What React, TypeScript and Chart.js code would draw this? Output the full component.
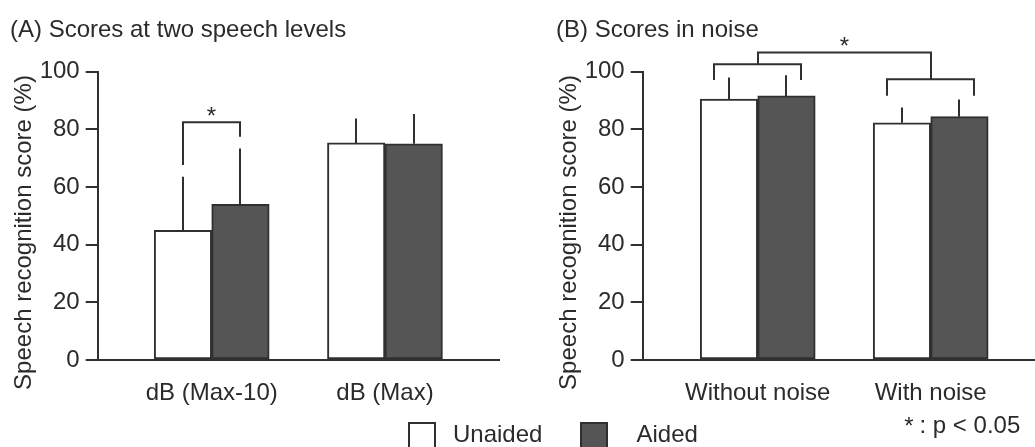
import React, { useEffect, useRef } from 'react';
import { Chart, registerables } from 'chart.js';

Chart.register(...registerables);

const W = 1035;
const H = 447;
const FONT = '"Liberation Sans", Arial, Helvetica, sans-serif';
const INK = '#303030';
const TEXT = '#2b2b2b';
const AIDED_FILL = '#555555';
const UNAIDED_FILL = '#ffffff';

// ---------- data ----------
const seriesNames = ['Unaided', 'Aided'];
const yTicks = [0, 20, 40, 60, 80, 100];

// Panel A
const aCategories = ['dB (Max-10)', 'dB (Max)'];
const aUnaided = [45, 75.3];
const aAided = [54, 75];
const aUnaidedSD = [18.6, 8.5];
const aAidedSD = [19.4, 10.3];

// Panel B
const bCategories = ['Without noise', 'With noise'];
const bUnaided = [90.5, 82.3];
const bAided = [91.6, 84.4];
const bUnaidedSD = [7.5, 5.3];
const bAidedSD = [7.2, 6.0];

// significance brackets (x in category units, y in %)
const aBrackets = [{ x1: -0.166, x2: 0.166, y: 82.5, y1: 67.6, y2: 77.4, star: true }];
const bBrackets = [
  { x1: -0.25, x2: 0.25, y: 102.6, y1: 97.1, y2: 97.1, star: false },
  { x1: 0.75, x2: 1.25, y: 97.4, y1: 91.7, y2: 91.7, star: false },
  { x1: 0, x2: 1, y: 106.7, y1: 102.6, y2: 97.4, star: true },
];

const yTitle = 'Speech recognition score (%)';
const footnote = ': p < 0.05';

type Bracket = { x1: number; x2: number; y: number; y1: number; y2: number; star: boolean };
type Panel = {
  key: string;
  title: string;
  titleX: number;
  yTitleX: number;
  categories: string[];
  unaided: number[];
  aided: number[];
  unaidedSD: number[];
  aidedSD: number[];
  brackets: Bracket[];
  padLeft: number;
  padRight: number;
  yAxisW: number;
  xMin: number;
  xMax: number;
  extras: boolean;
};

const panelA: Panel = {
  key: 'A',
  title: '(A) Scores at two speech levels',
  titleX: 10,
  yTitleX: 30.5,
  categories: aCategories,
  unaided: aUnaided,
  aided: aAided,
  unaidedSD: aUnaidedSD,
  aidedSD: aAidedSD,
  brackets: aBrackets,
  padLeft: 0,
  padRight: W - 500,
  yAxisW: 97.7,
  xMin: -0.658,
  xMax: 1.664,
  extras: false,
};

const panelB: Panel = {
  key: 'B',
  title: '(B) Scores in noise',
  titleX: 556,
  yTitleX: 576,
  categories: bCategories,
  unaided: bUnaided,
  aided: bAided,
  unaidedSD: bUnaidedSD,
  aidedSD: bAidedSD,
  brackets: bBrackets,
  padLeft: 515,
  padRight: 0,
  yAxisW: 127.7,
  xMin: -0.665,
  xMax: 1.603,
  extras: true,
};

const font = (size: number) => `${size}px ${FONT}`;

function annotPlugin(p: Panel) {
  return {
    id: 'annot' + p.key,
    afterDatasetsDraw(chart: any) {
      const ctx = chart.ctx as CanvasRenderingContext2D;
      const y = chart.scales.y;
      const vals = [p.unaided, p.aided];
      const sds = [p.unaidedSD, p.aidedSD];
      ctx.save();
      ctx.strokeStyle = INK;
      ctx.lineWidth = 2;
      ctx.lineCap = 'butt';
      for (let d = 0; d < 2; d++) {
        const meta = chart.getDatasetMeta(d);
        meta.data.forEach((el: any, i: number) => {
          const top = y.getPixelForValue(vals[d][i] + sds[d][i]);
          ctx.beginPath();
          ctx.moveTo(Math.round(el.x), el.y);
          ctx.lineTo(Math.round(el.x), top);
          ctx.stroke();
        });
      }
      ctx.restore();
    },
    afterDraw(chart: any) {
      const ctx = chart.ctx as CanvasRenderingContext2D;
      const xs = chart.scales.x;
      const ys = chart.scales.y;
      ctx.save();
      // brackets
      ctx.strokeStyle = INK;
      ctx.lineWidth = 2;
      ctx.lineJoin = 'miter';
      ctx.fillStyle = TEXT;
      ctx.font = font(24);
      ctx.textAlign = 'center';
      ctx.textBaseline = 'alphabetic';
      p.brackets.forEach((b) => {
        const x1 = Math.round(xs.getPixelForValue(b.x1));
        const x2 = Math.round(xs.getPixelForValue(b.x2));
        const py = ys.getPixelForValue(b.y);
        ctx.beginPath();
        ctx.moveTo(x1, ys.getPixelForValue(b.y1));
        ctx.lineTo(x1, py);
        ctx.lineTo(x2, py);
        ctx.lineTo(x2, ys.getPixelForValue(b.y2));
        ctx.stroke();
        if (b.star) ctx.fillText('*', (x1 + x2) / 2, py + 2);
      });
      // panel title
      ctx.textAlign = 'left';
      ctx.fillText(p.title, p.titleX, 37);
      // y title
      ctx.save();
      ctx.translate(p.yTitleX, 232.5);
      ctx.rotate(-Math.PI / 2);
      ctx.textAlign = 'center';
      ctx.fillText(yTitle, 0, 0);
      ctx.restore();

      if (p.extras) {
        // footnote
        ctx.textAlign = 'center';
        ctx.fillText('*', 909, 434);
        ctx.textAlign = 'left';
        ctx.fillText(footnote, 919.5, 433);
        // legend
        const fills = [UNAIDED_FILL, AIDED_FILL];
        const boxX = [408, 580];
        const textX = [453, 636.5];
        seriesNames.forEach((name, i) => {
          ctx.fillStyle = fills[i];
          ctx.fillRect(boxX[i], 422, 28, 30);
          ctx.strokeStyle = INK;
          ctx.lineWidth = 2;
          ctx.strokeRect(boxX[i] + 1, 423, 26, 30);
          ctx.fillStyle = TEXT;
          ctx.fillText(name, textX[i], 442);
        });
      }
      ctx.restore();
    },
  };
}

function makeChart(canvas: HTMLCanvasElement, p: Panel) {
  const mk = (vals: number[]) => vals.map((v, i) => ({ x: i, y: v }));
  return new Chart(canvas, {
    type: 'bar',
    data: {
      datasets: [
        {
          label: seriesNames[0],
          data: mk(p.unaided) as any,
          backgroundColor: UNAIDED_FILL,
          borderColor: INK,
          borderWidth: 2,
          borderSkipped: false,
          barThickness: 57.5,
        },
        {
          label: seriesNames[1],
          data: mk(p.aided) as any,
          backgroundColor: AIDED_FILL,
          borderColor: INK,
          borderWidth: 2,
          borderSkipped: false,
          barThickness: 57.5,
        },
      ],
    },
    options: {
      responsive: false,
      animation: false,
      devicePixelRatio: 1,
      events: [],
      layout: { padding: { left: p.padLeft, right: p.padRight, top: 71.7, bottom: 0 } },
      plugins: {
        legend: { display: false },
        tooltip: { enabled: false },
        title: { display: false },
      },
      scales: {
        x: {
          type: 'linear',
          min: p.xMin,
          max: p.xMax,
          bounds: 'data',
          offset: false,
          grid: { display: false, drawTicks: false, offset: false },
          border: { display: true, color: INK, width: 2 },
          afterBuildTicks: (s: any) => {
            s.ticks = p.categories.map((_, i) => ({ value: i }));
          },
          afterFit: (s: any) => {
            s.height = 87;
          },
          ticks: {
            callback: (_v: any, i: number) => p.categories[i],
            color: TEXT,
            font: { family: FONT, size: 24 },
            padding: 19,
            maxRotation: 0,
            minRotation: 0,
            autoSkip: false,
          },
        } as any,
        y: {
          type: 'linear',
          min: 0,
          max: 100,
          afterBuildTicks: (s: any) => {
            s.ticks = yTicks.map((v) => ({ value: v }));
          },
          afterFit: (s: any) => {
            s.width = p.yAxisW;
          },
          ticks: {
            color: TEXT,
            font: { family: FONT, size: 24 },
            padding: 6,
          },
          grid: {
            display: true,
            drawOnChartArea: false,
            drawTicks: true,
            tickLength: 12,
            color: INK,
            lineWidth: 2,
          },
          border: { display: true, color: INK, width: 2 },
        } as any,
      },
    },
    plugins: [annotPlugin(p)],
  });
}

export default function App() {
  const aRef = useRef<HTMLCanvasElement>(null);
  const bRef = useRef<HTMLCanvasElement>(null);
  useEffect(() => {
    const ca = makeChart(aRef.current!, panelA);
    const cb = makeChart(bRef.current!, panelB);
    return () => {
      ca.destroy();
      cb.destroy();
    };
  }, []);
  return (
    <div
      style={{
        position: 'absolute',
        left: 0,
        top: 0,
        width: W,
        height: H,
        background: '#ffffff',
        overflow: 'hidden',
      }}
    >
      <canvas ref={aRef} width={W} height={H} style={{ position: 'absolute', left: 0, top: 0 }} />
      <canvas ref={bRef} width={W} height={H} style={{ position: 'absolute', left: 0, top: 0 }} />
    </div>
  );
}
